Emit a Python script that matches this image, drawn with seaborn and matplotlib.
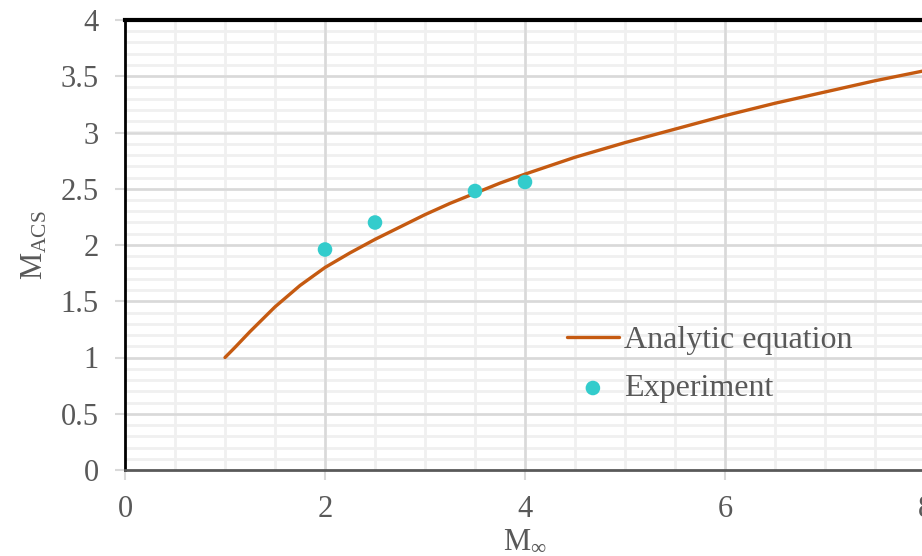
import numpy as np
import pandas as pd
import matplotlib
matplotlib.use("Agg")
import matplotlib.pyplot as plt
from matplotlib.ticker import MultipleLocator
import seaborn as sns

# analytic curve
mach_curve = [1.0, 1.1, 1.25, 1.5, 1.75, 2.0, 2.25, 2.5, 2.75, 3.0, 3.25, 3.5, 3.75,
              4.0, 4.5, 5.0, 5.5, 6.0, 6.5, 7.0, 7.5, 8.0]
macs_curve = [1.0, 1.09, 1.23, 1.45, 1.64, 1.80, 1.93, 2.05, 2.16, 2.27, 2.37, 2.46, 2.55,
              2.63, 2.78, 2.91, 3.03, 3.15, 3.26, 3.36, 3.46, 3.55]

# experiment points
mach_exp = [2.0, 2.5, 3.5, 4.0]
macs_exp = [1.96, 2.20, 2.48, 2.56]

orange = "#C55A11"
cyan = "#33CCCC"
grey_text = "#595959"

sns.set_style("white")
plt.rcParams["font.family"] = ["Liberation Serif", "DejaVu Serif"]
plt.rcParams["mathtext.fontset"] = "custom"
plt.rcParams["mathtext.rm"] = "Liberation Serif"
plt.rcParams["mathtext.it"] = "Liberation Serif:italic"

curve_df = pd.DataFrame({"M": mach_curve, "MACS": macs_curve})
exp_df = pd.DataFrame({"M": mach_exp, "MACS": macs_exp})

fig = plt.figure(figsize=(9.22, 5.56), dpi=100)
ax = fig.add_axes([125 / 922, 1 - 470 / 556, 800 / 922, 450 / 556])

# grid drawn by hand so the major lines sit over the minor ones
for xv in np.arange(0.5, 8, 0.5):
    ax.axvline(xv, color="#F0F0F0", linewidth=2, zorder=0)
for yv in np.arange(0.1, 4, 0.1):
    ax.axhline(yv, color="#F0F0F0", linewidth=2, zorder=0)
for xv in [2, 4, 6]:
    ax.axvline(xv, color="#D9D9D9", linewidth=1.8, zorder=0.5)
for yv in np.arange(0.5, 4, 0.5):
    ax.axhline(yv, color="#D9D9D9", linewidth=1.8, zorder=0.5)

sns.lineplot(data=curve_df, x="M", y="MACS", ax=ax, color=orange, linewidth=2.4,
             label="Analytic equation", zorder=3)
sns.scatterplot(data=exp_df, x="M", y="MACS", ax=ax, color=cyan, s=110,
                edgecolor="none", label="Experiment", zorder=4)

ax.set_xlim(0, 8)
ax.set_ylim(0, 4)
ax.xaxis.set_major_locator(MultipleLocator(2))
ax.set_yticks(np.arange(0, 4.01, 0.5))
ax.set_yticklabels(["0", "0.5", "1", "1.5", "2", "2.5", "3", "3.5", "4"])

ax.tick_params(which="major", direction="out", length=7, width=1.5, color="#D9D9D9",
               labelsize=22, labelcolor=grey_text)
ax.tick_params(axis="y", left=True, pad=12)
ax.tick_params(axis="x", bottom=True, pad=11)

for side in ["left", "top", "right"]:
    ax.spines[side].set_color("black")
ax.spines["left"].set_linewidth(2)
ax.spines["top"].set_linewidth(3)
ax.spines["right"].set_linewidth(1.5)
ax.spines["bottom"].set_color(grey_text)
ax.spines["bottom"].set_linewidth(2)

ax.set_xlabel(r"M$_\infty$", fontsize=22, color=grey_text, labelpad=2)
ax.set_ylabel(r"M$_{\mathrm{ACS}}$", fontsize=22, color=grey_text, labelpad=8)

ax.legend(loc="upper left", bbox_to_anchor=(0.516, 0.385), frameon=False, fontsize=23,
          labelcolor=grey_text, handlelength=1.65, handletextpad=0.15, labelspacing=0.6)

fig.savefig("out.png", dpi=100)
